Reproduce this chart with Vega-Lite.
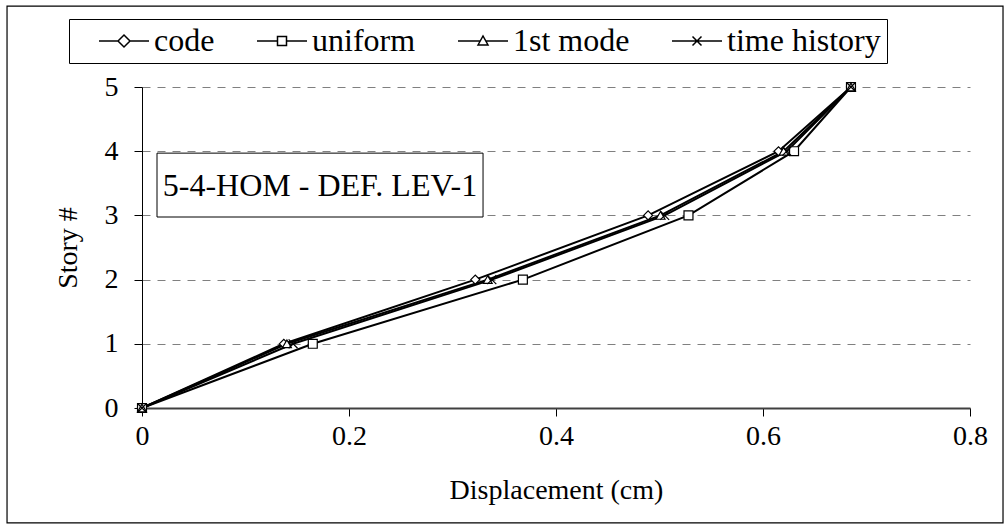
{
  "$schema": "https://vega.github.io/schema/vega-lite/v6.json",
  "width": 828,
  "height": 321,
  "autosize": "none",
  "padding": {"left": 142, "top": 87, "right": 37, "bottom": 116},
  "background": "white",
  "config": {
    "font": "Liberation Serif",
    "view": {"stroke": null},
    "axis": {"labelFont": "Liberation Serif", "titleFont": "Liberation Serif", "labelColor": "black", "titleColor": "black", "titleFontWeight": "normal", "labelFontSize": 28, "titleFontSize": 28},
    "legend": {"labelFont": "Liberation Serif", "labelFontSize": 32, "labelColor": "black"}
  },
  "datasets": {
    "drift": [
      {"series": "code", "story": 0, "disp": 0},
      {"series": "code", "story": 1, "disp": 0.137},
      {"series": "code", "story": 2, "disp": 0.322},
      {"series": "code", "story": 3, "disp": 0.489},
      {"series": "code", "story": 4, "disp": 0.615},
      {"series": "code", "story": 5, "disp": 0.685},
      {"series": "uniform", "story": 0, "disp": 0},
      {"series": "uniform", "story": 1, "disp": 0.165},
      {"series": "uniform", "story": 2, "disp": 0.368},
      {"series": "uniform", "story": 3, "disp": 0.528},
      {"series": "uniform", "story": 4, "disp": 0.630},
      {"series": "uniform", "story": 5, "disp": 0.685},
      {"series": "1st mode", "story": 0, "disp": 0},
      {"series": "1st mode", "story": 1, "disp": 0.140},
      {"series": "1st mode", "story": 2, "disp": 0.334},
      {"series": "1st mode", "story": 3, "disp": 0.501},
      {"series": "1st mode", "story": 4, "disp": 0.620},
      {"series": "1st mode", "story": 5, "disp": 0.685},
      {"series": "time history", "story": 0, "disp": 0},
      {"series": "time history", "story": 1, "disp": 0.146},
      {"series": "time history", "story": 2, "disp": 0.338},
      {"series": "time history", "story": 3, "disp": 0.505},
      {"series": "time history", "story": 4, "disp": 0.623},
      {"series": "time history", "story": 5, "disp": 0.685}
    ]
  },
  "resolve": {"scale": {"shape": "independent"}, "legend": {"shape": "independent"}},
  "layer": [
    {
      "data": {"values": [{}]},
      "mark": {"type": "rect", "fill": null, "stroke": "black", "strokeWidth": 1.2, "clip": false},
      "encoding": {
        "x": {"datum": -0.1304, "type": "quantitative", "scale": {"domain": [0, 0.8], "nice": false}, "axis": {"values": [0, 0.2, 0.4, 0.6, 0.8], "format": "~g", "labelFlush": false, "title": "Displacement (cm)", "grid": false, "domainColor": "#404040", "domainWidth": 2, "tickColor": "black", "tickSize": 8, "labelPadding": 6, "titlePadding": 26}},
        "x2": {"datum": 0.8319},
        "y": {"datum": 6.26, "type": "quantitative", "scale": {"domain": [0, 5], "nice": false}, "axis": {"values": [0, 1, 2, 3, 4, 5], "format": "d", "title": "Story #", "grid": true, "gridColor": "#808080", "gridDash": [8, 7], "gridWidth": 1, "domainColor": "black", "domainWidth": 1, "tickColor": "black", "tickSize": 8, "labelPadding": 16, "titlePadding": 22}},
        "y2": {"datum": -1.79}
      }
    },
    {
      "data": {"values": [{}]},
      "mark": {"type": "rect", "fill": "white", "stroke": "black", "strokeWidth": 1},
      "encoding": {
        "x": {"datum": 0.0145, "type": "quantitative"},
        "x2": {"datum": 0.3295},
        "y": {"datum": 3.97, "type": "quantitative"},
        "y2": {"datum": 2.975}
      }
    },
    {
      "data": {"values": [{"label": "5-4-HOM - DEF. LEV-1"}]},
      "mark": {"type": "text", "fontSize": 32, "font": "Liberation Serif", "align": "center", "baseline": "middle", "color": "black", "dy": 1},
      "encoding": {
        "x": {"datum": 0.172, "type": "quantitative"},
        "y": {"datum": 3.47, "type": "quantitative"},
        "text": {"field": "label"}
      }
    },
    {
      "data": {"name": "drift"},
      "mark": {"type": "line", "color": "black", "strokeWidth": 2},
      "encoding": {
        "x": {"field": "disp", "type": "quantitative"},
        "y": {"field": "story", "type": "quantitative"},
        "detail": {"field": "series"},
        "order": {"field": "story"}
      }
    },
    {
      "data": {"name": "drift"},
      "mark": {"type": "point", "filled": false, "fill": "white", "fillOpacity": 1, "stroke": "black", "strokeWidth": 1.2, "size": 80, "opacity": 1},
      "encoding": {
        "x": {"field": "disp", "type": "quantitative"},
        "y": {"field": "story", "type": "quantitative"},
        "shape": {
          "field": "series",
          "type": "nominal",
          "scale": {"domain": ["code", "uniform", "1st mode", "time history"], "range": ["diamond", "square", "triangle-up", "M-1,-1L1,1M-1,1L1,-1"]},
          "legend": null
        }
      }
    },
    {
      "data": {"name": "drift"},
      "mark": {"type": "point", "filled": false, "stroke": "black", "strokeWidth": 1.5, "opacity": 0},
      "encoding": {
        "x": {"field": "disp", "type": "quantitative"},
        "y": {"field": "story", "type": "quantitative"},
        "shape": {
          "field": "series",
          "type": "nominal",
          "scale": {"domain": ["code", "uniform", "1st mode", "time history"], "range": [
            "M0.8,0L2.7,0M3.9,0L5.8,0M2.7,0L3.3,-0.6L3.9,0L3.3,0.6Z",
            "M0.8,0L2.85,0M3.75,0L5.8,0M2.85,-0.45L3.75,-0.45L3.75,0.45L2.85,0.45Z",
            "M0.8,0L3.02,0M3.58,0L5.8,0M2.8,0.4L3.3,-0.5L3.8,0.4Z",
            "M0.8,0L5.8,0M2.85,-0.45L3.75,0.45M2.85,0.45L3.75,-0.45"
          ]},
          "legend": {
            "title": null,
            "orient": "none",
            "legendX": -73,
            "legendY": -68,
            "direction": "horizontal",
            "columns": 4,
            "strokeColor": "black",
            "fillColor": "white",
            "padding": 6,
            "columnPadding": 18,
            "labelOffset": 47,
            "symbolSize": 400,
            "symbolStrokeWidth": 1.5,
            "symbolStrokeColor": "black",
            "symbolFillColor": "white",
            "symbolOpacity": 1
          }
        }
      }
    }
  ]
}
